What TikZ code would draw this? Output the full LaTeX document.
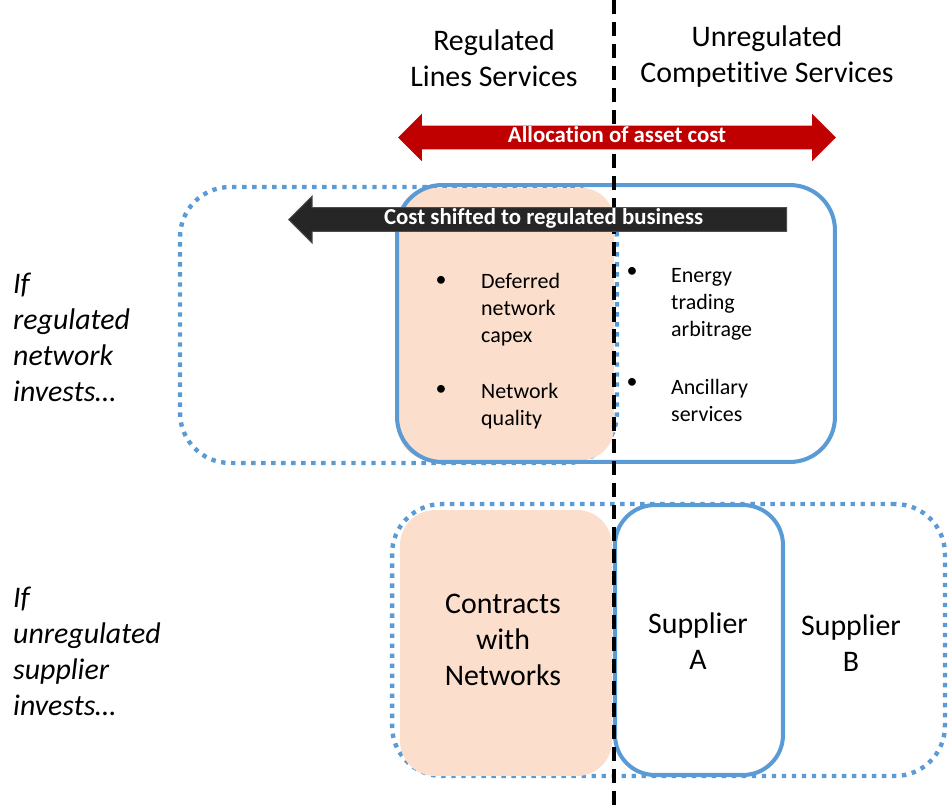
\documentclass[tikz,border=0pt]{standalone}
\usepackage{fontspec}
\setmainfont[Ligatures={NoCommon,NoRequired,NoContextual}]{Carlito}
\usetikzlibrary{shapes.arrows}

\definecolor{boxblue}{RGB}{91,155,213}
\definecolor{arrowred}{RGB}{192,0,0}
\definecolor{arrowgray}{RGB}{38,38,38}
\definecolor{peach}{RGB}{251,222,204}

\begin{document}
\begin{tikzpicture}[
    x=0.02cm, y=-0.02cm,    % one unit = one pixel, y going down
    bigtext/.style={font=\fontsize{17}{20.5}\selectfont, align=center},
    rowlabel/.style={font=\fontsize{17}{20.5}\selectfont\itshape, align=left, anchor=west},
    smalltext/.style={font=\fontsize{12.5}{15.3}\selectfont, align=left, anchor=west},
    bulletmark/.style={font=\fontsize{12.5}{15.3}\selectfont, inner sep=0pt},
    solidbox/.style={draw=boxblue, line width=2.3pt, rounded corners=0.9cm, inner sep=0pt},
    dottedbox/.style={draw=boxblue, line width=2.5pt, dash pattern=on 2.5pt off 3.2pt, rounded corners=1cm, inner sep=0pt},
    shadedbox/.style={fill=peach, rounded corners=0.65cm, inner sep=0pt},
    divider/.style={line width=2.2pt, dash pattern=on 8pt off 4.5pt},
    arrowtext/.style={font=\fontsize{13}{15}\selectfont\bfseries, text=white, text height=8.5pt, text depth=2.5pt, inner ysep=1pt}]
    \useasboundingbox (0,0) rectangle (948,812);

    % Top row: regulated network invests
    \node[dottedbox, minimum width=8.74cm, minimum height=5.52cm] (netwide) at (398.5,325) {};
    \node[shadedbox, minimum width=4.32cm, minimum height=5.44cm] (netshade) at (506,324) {};
    \node[solidbox, minimum width=8.76cm, minimum height=5.54cm] (netbox) at (616,323.5) {};

    % Bottom row: unregulated supplier invests
    \node[dottedbox, minimum width=11.06cm, minimum height=5.44cm] (supwide) at (668.5,640) {};
    \node[shadedbox, minimum width=4.24cm, minimum height=5.32cm, rounded corners=0.7cm] (supshade) at (506,643) {};
    \node[solidbox, minimum width=3.36cm, minimum height=5.4cm, rounded corners=0.8cm] (supA) at (699,640) {};

    % Dividing line
    \coordinate (divtop) at (614,0);
    \coordinate (divbot) at (614,812);
    \draw[divider] (divtop) -- (divbot);

    % Column headings
    \node[bigtext] (reghead) at (494,58) {Regulated\\Lines Services};
    \node[bigtext] (unreghead) at (767,57) {Unregulated\\Competitive Services};

    % Row labels
    \node[rowlabel] (ifnet) at (7,337) {If\\regulated\\network\\invests…};
    \node[rowlabel] (ifsup) at (7,651) {If\\unregulated\\supplier\\invests…};

    % Benefit lists
    \node[bulletmark] (b1) at (441,281) {\textbullet};
    \node[smalltext] (deferred) at (475,310) {Deferred\\network\\capex};
    \node[bulletmark] (b2) at (441,390) {\textbullet};
    \node[smalltext] (quality) at (475,406) {Network\\quality};
    \node[bulletmark] (b3) at (632,272) {\textbullet};
    \node[smalltext] (trading) at (665,304.5) {Energy\\trading\\arbitrage};
    \node[bulletmark] (b4) at (632,383) {\textbullet};
    \node[smalltext] (ancillary) at (665,400.5) {Ancillary\\services};

    % Bottom row texts
    \node[bigtext] (contracts) at (503,640) {Contracts\\with\\Networks};
    \node[bigtext] (supAtext) at (698,641.5) {Supplier\\A};
    \node[bigtext] (supBtext) at (851,643) {Supplier\\B};

    % Block arrows
    \node[double arrow, fill=arrowred, minimum height=8.76cm,
          double arrow head extend=6.8pt, arrowtext] (alloc) at (617,137.5) {Allocation of asset cost};
    \node[single arrow, shape border rotate=180, fill=arrowgray, draw=black!70, line width=0.6pt,
          minimum height=9.96cm, single arrow head extend=6.5pt, arrowtext, anchor=tip] (shift) at (288,219.5) {Cost shifted to regulated business};
\end{tikzpicture}
\end{document}
